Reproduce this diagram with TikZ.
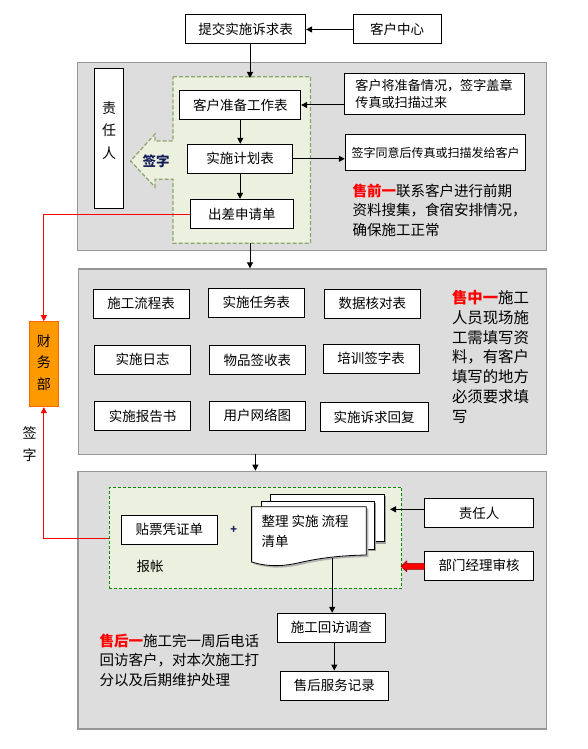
\documentclass[tikz,border=0pt]{standalone}
\usepackage{fontspec}
\setmainfont{Noto Sans CJK SC}
\usetikzlibrary{arrows.meta}
\definecolor{panelgray}{RGB}{221,221,221}
\definecolor{panelborder}{RGB}{150,150,150}
\definecolor{lightgreen}{RGB}{235,241,222}
\definecolor{olivedash}{RGB}{140,165,110}
\definecolor{darkgreen}{RGB}{0,140,0}
\definecolor{orangefill}{RGB}{255,153,0}
\definecolor{orangeborder}{RGB}{255,102,0}
\definecolor{darkred}{RGB}{150,0,0}
\definecolor{plusblue}{RGB}{20,30,90}
\tikzset{
  arr/.style={-{Triangle[length=6pt,width=6pt]}, line width=1pt},
  redarr/.style={-{Triangle[length=6pt,width=6pt]}, line width=1pt, draw=red, color=red},
  box/.style={draw, fill=white, line width=1pt, inner sep=0pt, font=\fontsize{13.5}{16}\selectfont},
  panel/.style={draw=panelborder, fill=panelgray, line width=1.3pt, anchor=north west, inner sep=0pt},
  txt/.style={inner sep=0pt, anchor=west, font=\fontsize{14.5}{16}\selectfont},
  txtb/.style={inner sep=0pt, anchor=west, font=\fontsize{15.4}{16}\selectfont},
  doctxt/.style={inner sep=0pt, anchor=west, font=\fontsize{13.5}{16}\selectfont},
}
\begin{document}
\begin{tikzpicture}[x=1pt,y=-1pt]
\useasboundingbox (0,0) rectangle (588,749);
\fill[white] (0,0) rectangle (588,749);

% ---------- top ----------
\node[box, minimum width=120pt, minimum height=29pt] (tijiao) at (245.6,29.5) {提交实施诉求表};
\node[box, minimum width=88pt, minimum height=29pt] (kehu) at (397,29.5) {客户中心};
\draw[arr] (kehu.west) -- (tijiao.east);

% ---------- panel 1 ----------
\node[panel, minimum width=468.5pt, minimum height=187.7pt] (p1) at (77,62) {};
\node[box, minimum width=29pt, minimum height=140pt] (zr1) at (109,138.3) {};
\node[inner sep=0pt, align=center, font=\fontsize{14}{22.5}\selectfont] at (109,130.5) {责\\任\\人};

\draw[draw=olivedash, line width=1.2pt, dash pattern=on 4pt off 2pt, fill=lightgreen]
  (173,76.7) -- (310.5,76.7) -- (310.5,243.3) -- (173,243.3) -- (173,179.3)
  -- (155,179.3) -- (155,187) -- (130.5,161) -- (155,134) -- (155,141) -- (173,141) -- cycle;
\coordinate (g1top) at (250,78);
\coordinate (g1bot) at (250,243.3);
\node[inner sep=0pt, font=\fontsize{13.5}{16}\selectfont\bfseries, text=plusblue] (qz1) at (156,161) {签字};

\node[box, minimum width=120.7pt, minimum height=28.6pt] (zhunbei) at (240.3,105) {客户准备工作表};
\node[box, minimum width=105pt, minimum height=29pt] (jihua) at (240,158.8) {实施计划表};
\node[box, minimum width=102.7pt, minimum height=29.4pt] (chuchai) at (241.8,214) {出差申请单};
\draw[arr] (tijiao.south -| g1top) -- (g1top);
\draw[arr] (zhunbei.south) -- (zhunbei.south |- jihua.north);
\draw[arr] (jihua.south) -- (jihua.south |- chuchai.north);

\node[box, minimum width=180pt, minimum height=40.7pt, align=left, font=\fontsize{13.1}{16.6}\selectfont] (note1) at (434,93.7) {客户将准备情况，签字盖章\\传真或扫描过来};
\node[box, minimum width=180.4pt, minimum height=35.7pt, font=\fontsize{12}{15}\selectfont] (note2) at (435.5,152.8) {签字同意后传真或扫描发给客户};
\draw[arr] (note1.west |- zhunbei.east) -- (zhunbei.east);
\draw[arr] (jihua.east) -- (note2.west |- jihua.east);

\node[txt] (sq1) at (352.5,190.7) {\textcolor{red}{\bfseries 售前一}联系客户进行前期};
\node[txt] (sq2) at (352.5,210) {资料搜集，食宿安排情况，};
\node[txt] (sq3) at (352.5,230) {确保施工正常};

% ---------- panel 2 ----------
\node[panel, minimum width=468pt, minimum height=185.7pt] (p2) at (78,268.3) {};
\coordinate (p2top) at (250,268.3);
\draw[arr] (g1bot) -- (p2top);

\node[box, minimum width=96.4pt, minimum height=29pt] (b11) at (141.2,303.8) {施工流程表};
\node[box, minimum width=96.5pt, minimum height=29pt] (b12) at (256.3,302.8) {实施任务表};
\node[box, minimum width=96pt, minimum height=29pt] (b13) at (372.3,303.8) {数据核对表};
\node[box, minimum width=96pt, minimum height=29pt] (b21) at (142.5,359.8) {实施日志};
\node[box, minimum width=96.4pt, minimum height=29pt] (b22) at (257.4,360.2) {物品签收表};
\node[box, minimum width=96pt, minimum height=29pt] (b23) at (371.2,358.8) {培训签字表};
\node[box, minimum width=96pt, minimum height=28.6pt] (b31) at (142.5,416) {实施报告书};
\node[box, minimum width=96.4pt, minimum height=29pt] (b32) at (257.4,415.8) {用户网络图};
\node[box, minimum width=108pt, minimum height=29pt] (b33) at (374.2,417.2) {实施诉求回复};

\node[txtb] (sz1) at (451.8,297.7) {\textcolor{red}{\bfseries 售中一}施工};
\node[txtb] (sz2) at (451.8,317.6) {人员现场施};
\node[txtb] (sz3) at (451.8,337.4) {工需填写资};
\node[txtb] (sz4) at (451.8,357.2) {料，有客户};
\node[txtb] (sz5) at (451.8,377.0) {填写的地方};
\node[txtb] (sz6) at (451.8,396.8) {必须要求填};
\node[txtb] (sz7) at (451.8,416.6) {写};

% ---------- finance ----------
\node[draw=orangeborder, fill=orangefill, line width=1pt, minimum width=29.3pt, minimum height=85pt, inner sep=0pt] (caiwu) at (43.85,364.2) {};
\node[inner sep=0pt, align=center, font=\fontsize{14}{21.7}\selectfont] at (43.85,362.5) {财\\务\\部};
\node[inner sep=0pt, align=center, font=\fontsize{14}{22}\selectfont] (qz2) at (29.5,444) {签\\字};

% ---------- panel 3 ----------
\node[panel, minimum width=468.4pt, minimum height=257.6pt] (p3) at (77.2,470.7) {};
\coordinate (p2bot) at (255.4,454);
\coordinate (p3top) at (255.4,470.7);
\draw[arr] (p2bot) -- (p3top);

\node[draw=darkgreen, line width=1pt, dash pattern=on 3pt off 2pt, fill=lightgreen, minimum width=292.5pt, minimum height=101.6pt, inner sep=0pt, anchor=north west] (g2) at (108.7,486.7) {};

\node[box, minimum width=96.4pt, minimum height=29pt] (tiepiao) at (169.3,529.8) {贴票凭证单};
\node[inner sep=0pt, font=\fontsize{11}{12}\selectfont\bfseries, text=plusblue] (plus) at (233.6,529.5) {+};
\node[inner sep=0pt, font=\fontsize{13.5}{16}\selectfont] (baozhang) at (150,566) {报帐};

% multi-document
\fill[gray!75] (272.3,496.3) rectangle (386.3,543.7);
\filldraw[fill=white, draw=black, line width=0.8pt] (270.3,494.3) rectangle (384.3,541.7);
\fill[gray!75] (263.3,503) rectangle (376.2,551.3);
\filldraw[fill=white, draw=black, line width=0.8pt] (261.3,501) rectangle (374.2,549.3);
\fill[gray!60] (253.6,508.7) -- (368.3,508.7) -- (368.3,557)
  .. controls (342,557.5) and (322,560) .. (302,564.5)
  .. controls (287,568) and (272,569.5) .. (253.6,564) -- cycle;
\filldraw[fill=white, draw=black, line width=0.8pt] (251.6,506.7) -- (366.3,506.7) -- (366.3,555)
  .. controls (340,555.5) and (320,558) .. (300,562.5)
  .. controls (285,566) and (270,567.5) .. (251.6,562) -- cycle;
\node[doctxt] (dt1) at (261.5,521) {整理\hspace{3pt}实施\hspace{3pt}流程};
\node[doctxt] (dt2) at (261.5,541) {清单};
\coordinate (docbot) at (332.2,558.3);

\node[box, minimum width=107.6pt, minimum height=29pt] (huifang) at (331.3,627.8) {施工回访调查};
\node[box, minimum width=107.6pt, minimum height=29.3pt] (shouhou) at (334.3,685.7) {售后服务记录};
\draw[arr] (docbot) -- (docbot |- huifang.north);
\draw[arr] (shouhou.north |- huifang.south) -- (shouhou.north);

\node[box, minimum width=108.4pt, minimum height=29.4pt] (zr2) at (479,513) {责任人};
\node[box, minimum width=108.4pt, minimum height=29.3pt] (bumen) at (479,565.7) {部门经理审核};
\coordinate (zr2t) at (390,509.3);
\draw[arr] (zr2.west |- zr2t) -- (zr2t);
\filldraw[fill=red, draw=darkred, line width=0.6pt]
  (bumen.west |- 0,563.3) -- (406.7,563.3) -- (406.7,561) -- (401,566.3)
  -- (406.7,571.7) -- (406.7,569.3) -- (bumen.west |- 0,569.3) -- cycle;

\node[txt] (sh1) at (99.4,640.7) {\textcolor{red}{\bfseries 售后一}施工完一周后电话};
\node[txt] (sh2) at (99.4,660) {回访客户，对本次施工打};
\node[txt] (sh3) at (99.4,680) {分以及后期维护处理};

% ---------- red connectors ----------
\draw[redarr] (chuchai.west) -| (caiwu.north);
\draw[redarr] (g2.west) -| (caiwu.south);
\end{tikzpicture}
\end{document}
